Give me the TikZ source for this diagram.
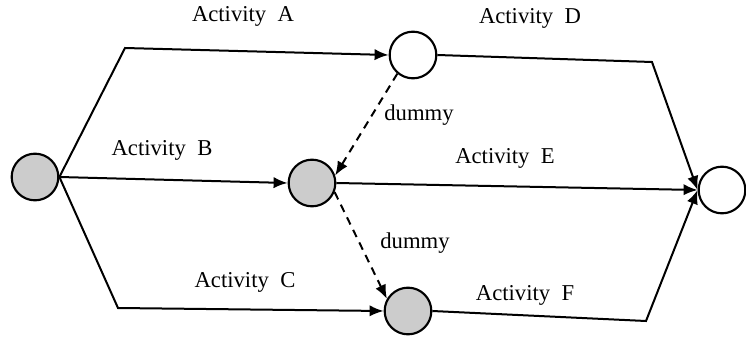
\documentclass[tikz,border=0pt]{standalone}
\usepackage{fontspec}
\setmainfont{Liberation Serif}
\usetikzlibrary{arrows.meta}

\begin{document}
\begin{tikzpicture}[
  x=0.75pt, y=-0.75pt,
  event/.style={draw, circle, line width=1.6pt, minimum size=35pt, inner sep=0pt},
  busy/.style={event, fill=gray!40},
  lab/.style={font=\fontsize{17}{20}\selectfont, inner sep=0pt},
  arr/.style={line width=1.5pt, -{Latex[length=10.5pt, width=8.5pt]}},
  dummyline/.style={arr, dash pattern=on 6pt off 4.5pt}
]
\useasboundingbox (0,0) rectangle (746,339);

\node[busy] (start) at (35,177) {};
\node[event] (top) at (413,55) {};
\node[busy] (mid) at (312,183) {};
\node[busy] (bot) at (408,311) {};
\node[event] (end) at (722,190) {};

% bends of the activity lines
\coordinate (ca) at (125,48);
\coordinate (cc) at (118,308);
\coordinate (cd) at (652,62);
\coordinate (cf) at (646,321);

\draw[arr] (start.east) -- (ca) -- (top.west);
\draw[arr] (start.east) -- (mid.west);
\draw[arr] (start.east) -- (cc) -- (bot.west);
\draw[arr] (top.east) -- (cd) -- (end.west);
\draw[arr] (mid.east) -- (end.west);
\draw[arr] (bot.east) -- (cf) -- (end.west);

\draw[dummyline] (top.230) -- (mid.18);
\draw[dummyline] (mid.-22) -- (bot.150);

\node[lab] (labA) at (243,16) {Activity~~A};
\node[lab] (labD) at (530,18) {Activity~~D};
\node[lab] (labB) at (162,150) {Activity~~B};
\node[lab] (labE) at (505,158) {Activity~~E};
\node[lab] (labC) at (245,282) {Activity~~C};
\node[lab] (labF) at (525,295) {Activity~~F};
\node[lab] (labX) at (419,115) {dummy};
\node[lab] (labY) at (415,243) {dummy};
\end{tikzpicture}
\end{document}
